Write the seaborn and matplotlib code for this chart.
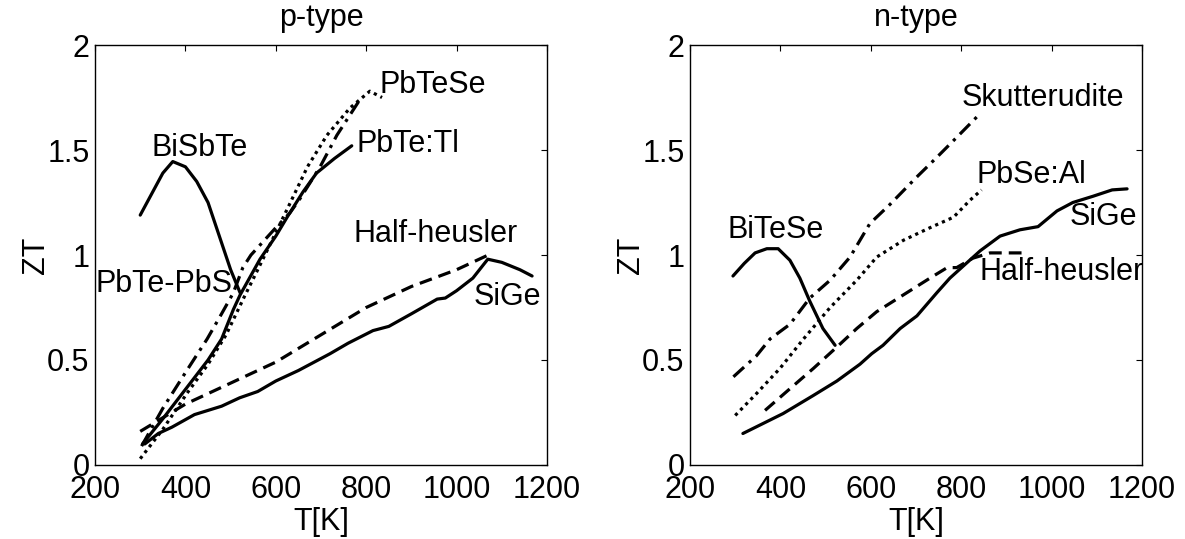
import matplotlib
matplotlib.use("Agg")
import matplotlib.pyplot as plt
import seaborn as sns

# ---------------- data: p-type ----------------
p_bisbte_T = [300, 330, 350, 372, 400, 425, 450, 475, 500, 521]
p_bisbte_ZT = [1.19, 1.31, 1.39, 1.445, 1.42, 1.35, 1.25, 1.09, 0.93, 0.82]

p_pbtetl_T = [305, 350, 400, 450, 480, 506, 521, 565, 600, 625, 660, 690, 730, 768]
p_pbtetl_ZT = [0.10, 0.22, 0.36, 0.50, 0.60, 0.74, 0.81, 0.98, 1.09, 1.18, 1.30, 1.39, 1.46, 1.52]

p_pbtese_T = [300, 350, 403, 450, 490, 530, 560, 603, 630, 670, 713, 764, 808, 835]
p_pbtese_ZT = [0.03, 0.17, 0.34, 0.48, 0.62, 0.80, 0.93, 1.12, 1.24, 1.42, 1.57, 1.70, 1.78, 1.75]

p_pbtepbs_T = [303, 350, 400, 448, 480, 506, 527, 545, 600, 631, 654, 698, 735, 786]
p_pbtepbs_ZT = [0.09, 0.27, 0.44, 0.60, 0.72, 0.82, 0.94, 1.00, 1.13, 1.20, 1.27, 1.42, 1.57, 1.74]

p_hh_T = [300, 400, 500, 600, 700, 800, 900, 1000, 1075]
p_hh_ZT = [0.16, 0.29, 0.39, 0.49, 0.62, 0.75, 0.85, 0.93, 1.005]

p_sige_T = [310, 340, 370, 420, 480, 520, 560, 600, 650, 720, 760, 815, 850, 900,
            957, 975, 1000, 1036, 1069, 1100, 1140, 1167]
p_sige_ZT = [0.10, 0.15, 0.18, 0.24, 0.28, 0.32, 0.35, 0.40, 0.45, 0.53, 0.58, 0.64, 0.66, 0.72,
             0.79, 0.795, 0.83, 0.89, 0.98, 0.965, 0.93, 0.90]

# ---------------- data: n-type ----------------
n_bitese_T = [295, 320, 344, 370, 395, 421, 443, 465, 494, 521]
n_bitese_ZT = [0.90, 0.96, 1.01, 1.03, 1.03, 0.975, 0.89, 0.78, 0.65, 0.57]

n_skut_T = [296, 347, 377, 421, 465, 510, 554, 598, 642, 701, 746, 790, 838]
n_skut_ZT = [0.42, 0.52, 0.60, 0.67, 0.795, 0.88, 0.99, 1.15, 1.24, 1.37, 1.465, 1.56, 1.665]

n_pbseal_T = [300, 347, 399, 451, 510, 569, 613, 672, 731, 783, 819, 845]
n_pbseal_ZT = [0.236, 0.34, 0.46, 0.60, 0.75, 0.88, 0.99, 1.07, 1.13, 1.18, 1.26, 1.31]

n_hh_T = [366, 414, 473, 524, 569, 613, 672, 731, 769, 790, 826, 864, 948]
n_hh_ZT = [0.26, 0.35, 0.46, 0.56, 0.65, 0.73, 0.81, 0.89, 0.94, 0.94, 0.985, 1.01, 1.01]

n_sige_T = [317, 406, 472, 525, 576, 602, 627, 665, 702, 746, 775, 842, 886, 930,
            970, 1012, 1047, 1092, 1134, 1167]
n_sige_ZT = [0.15, 0.245, 0.33, 0.40, 0.48, 0.53, 0.57, 0.65, 0.71, 0.82, 0.89, 1.02, 1.09, 1.12,
             1.135, 1.21, 1.25, 1.28, 1.31, 1.315]

x_ticks = [200, 400, 600, 800, 1000, 1200]
y_ticks = [0, 0.5, 1, 1.5, 2]
y_ticklabels = ["0", "0.5", "1", "1.5", "2"]

# ---------------- style ----------------
sns.set_theme(style="white")
plt.rcParams["font.family"] = ["Liberation Sans", "DejaVu Sans"]
plt.rcParams["text.color"] = "black"
plt.rcParams["axes.labelcolor"] = "black"
plt.rcParams["xtick.color"] = "black"
plt.rcParams["ytick.color"] = "black"
FS = 22

SOLID = "-"
DASHED = (0, (4, 2.2))
DOTTED = (0, (1, 1.3))
DASHDOT = (0, (4.5, 2, 1, 2))
LW = 2.3

fig = plt.figure(figsize=(11.85, 5.39), dpi=100)
axL = fig.add_axes([0.0802, 0.1373, 0.3814, 0.7792])
axR = fig.add_axes([0.5823, 0.1373, 0.3814, 0.7792])

p_series = [
    (p_bisbte_T, p_bisbte_ZT, SOLID),
    (p_sige_T, p_sige_ZT, SOLID),
    (p_hh_T, p_hh_ZT, DASHED),
    (p_pbtese_T, p_pbtese_ZT, DOTTED),
    (p_pbtepbs_T, p_pbtepbs_ZT, DASHDOT),
    (p_pbtetl_T, p_pbtetl_ZT, SOLID),
]
n_series = [
    (n_bitese_T, n_bitese_ZT, SOLID),
    (n_sige_T, n_sige_ZT, SOLID),
    (n_hh_T, n_hh_ZT, DASHED),
    (n_pbseal_T, n_pbseal_ZT, DOTTED),
    (n_skut_T, n_skut_ZT, DASHDOT),
]

p_labels = [
    ("PbTeSe", 830, 1.81),
    ("PbTe:Tl", 779, 1.53),
    ("BiSbTe", 325, 1.51),
    ("Half-heusler", 771, 1.10),
    ("PbTe-PbS", 201, 0.86),
    ("SiGe", 1037, 0.80),
]
n_labels = [
    ("Skutterudite", 801, 1.75),
    ("PbSe:Al", 833, 1.38),
    ("BiTeSe", 283, 1.12),
    ("SiGe", 1039, 1.18),
    ("Half-heusler", 840, 0.92),
]

for ax, series, labels, title in [(axL, p_series, p_labels, "p-type"),
                                  (axR, n_series, n_labels, "n-type")]:
    for T, ZT, ls in series:
        sns.lineplot(x=T, y=ZT, ax=ax, color="black", linewidth=LW,
                     linestyle=ls, sort=False, legend=False)
    for txt, xx, yy in labels:
        ax.text(xx, yy, txt, fontsize=FS, ha="left", va="center", color="black")
    ax.set_xlim(200, 1200)
    ax.set_ylim(0, 2)
    ax.set_xticks(x_ticks)
    ax.set_xticklabels([str(t) for t in x_ticks])
    ax.set_yticks(y_ticks)
    ax.set_yticklabels(y_ticklabels)
    ax.tick_params(direction="in", top=True, right=True, length=4, width=0.8,
                   labelsize=FS, colors="black")
    ax.tick_params(axis="x", pad=7)
    ax.tick_params(axis="y", pad=4)
    for s in ax.spines.values():
        s.set_visible(True)
        s.set_color("black")
        s.set_linewidth(1.0)
    ax.set_xlabel("T[K]", fontsize=FS, labelpad=2, color="black")
    ax.set_ylabel("ZT", fontsize=FS, labelpad=-3, color="black")
    ax.set_title(title, fontsize=FS, pad=14, color="black")
    ax.grid(False)

fig.savefig("out.png", dpi=100, facecolor="white")
